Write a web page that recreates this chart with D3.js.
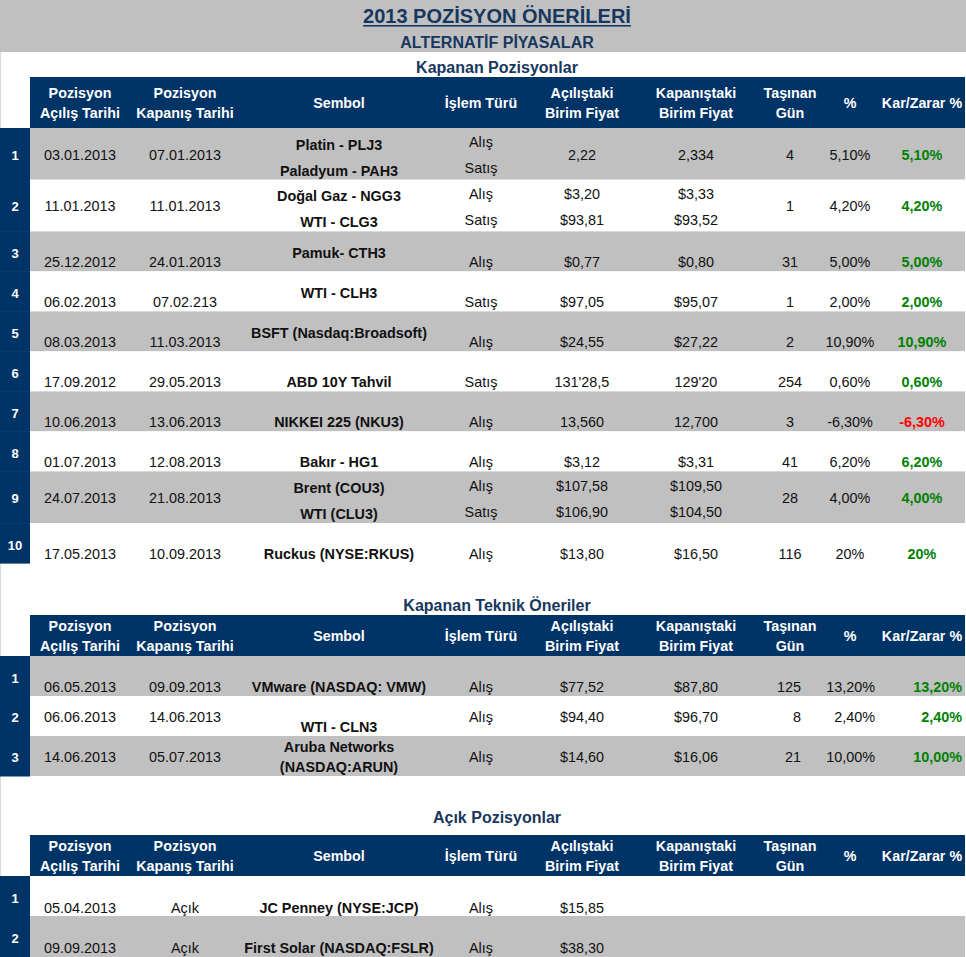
<!DOCTYPE html>
<html><head><meta charset="utf-8">
<script src="https://cdn.jsdelivr.net/npm/d3@7"></script>
<style>
html,body{margin:0;padding:0;background:#fff;}
svg{display:block;font-family:"Liberation Sans",Arial,sans-serif;}
</style></head>
<body>
<script>
// ---------- DATA ----------
const title = "2013 POZİSYON ÖNERİLERİ";
const subtitle = "ALTERNATİF PİYASALAR";
const sectionTitles = ["Kapanan Pozisyonlar", "Kapanan Teknik Öneriler", "Açık Pozisyonlar"];
const columns = ["open","close","symbol","side","openPrice","closePrice","days","pct","pl"];
const headerLabels = [["Pozisyon","Açılış Tarihi"],["Pozisyon","Kapanış Tarihi"],["Sembol"],["İşlem Türü"],["Açılıştaki","Birim Fiyat"],["Kapanıştaki","Birim Fiyat"],["Taşınan","Gün"],["%"],["Kar/Zarar %"]];

// Section 1: Kapanan Pozisyonlar
const kpOpen = ["03.01.2013","11.01.2013","25.12.2012","06.02.2013","08.03.2013","17.09.2012","10.06.2013","01.07.2013","24.07.2013","17.05.2013"];
const kpClose = ["07.01.2013","11.01.2013","24.01.2013","07.02.213","11.03.2013","29.05.2013","13.06.2013","12.08.2013","21.08.2013","10.09.2013"];
const kpSymbol = [["Platin - PLJ3","Paladyum - PAH3"],["Doğal Gaz - NGG3","WTI - CLG3"],["Pamuk- CTH3"],["WTI - CLH3"],["BSFT (Nasdaq:Broadsoft)"],["ABD 10Y Tahvil"],["NIKKEI 225 (NKU3)"],["Bakır - HG1"],["Brent (COU3)","WTI (CLU3)"],["Ruckus (NYSE:RKUS)"]];
const kpSide = [["Alış","Satış"],["Alış","Satış"],["Alış"],["Satış"],["Alış"],["Satış"],["Alış"],["Alış"],["Alış","Satış"],["Alış"]];
const kpOpenPrice = [["2,22"],["$3,20","$93,81"],["$0,77"],["$97,05"],["$24,55"],["131'28,5"],["13,560"],["$3,12"],["$107,58","$106,90"],["$13,80"]];
const kpClosePrice = [["2,334"],["$3,33","$93,52"],["$0,80"],["$95,07"],["$27,22"],["129'20"],["12,700"],["$3,31"],["$109,50","$104,50"],["$16,50"]];
const kpDays = ["4","1","31","1","2","254","3","41","28","116"];
const kpPct = ["5,10%","4,20%","5,00%","2,00%","10,90%","0,60%","-6,30%","6,20%","4,00%","20%"];
const kpPL = ["5,10%","4,20%","5,00%","2,00%","10,90%","0,60%","-6,30%","6,20%","4,00%","20%"];

// Section 2: Kapanan Teknik Öneriler
const tkOpen = ["06.05.2013","06.06.2013","14.06.2013"];
const tkClose = ["09.09.2013","14.06.2013","05.07.2013"];
const tkSymbol = [["VMware (NASDAQ: VMW)"],["WTI - CLN3"],["Aruba Networks","(NASDAQ:ARUN)"]];
const tkSide = [["Alış"],["Alış"],["Alış"]];
const tkOpenPrice = [["$77,52"],["$94,40"],["$14,60"]];
const tkClosePrice = [["$87,80"],["$96,70"],["$16,06"]];
const tkDays = ["125","8","21"];
const tkPct = ["13,20%","2,40%","10,00%"];
const tkPL = ["13,20%","2,40%","10,00%"];

// Section 3: Açık Pozisyonlar
const apOpen = ["05.04.2013","09.09.2013"];
const apClose = ["Açık","Açık"];
const apSymbol = [["JC Penney (NYSE:JCP)"],["First Solar (NASDAQ:FSLR)"]];
const apSide = [["Alış"],["Alış"]];
const apOpenPrice = [["$15,85"],["$38,30"]];

// ---------- LAYOUT (styles, not data) ----------
const W = 966, H = 957;
const NAVY = "#003366", GRAY = "#c0c0c0", TITLE = "#17375e";
const xCenter = d3.scaleOrdinal().domain(columns).range([80,185,339,481,582,696,790,850,922]);
const xRight = d3.scaleOrdinal().domain(["days","pct","pl"]).range([801,875,962]);

const svg = d3.select("body").append("svg").attr("width", W).attr("height", H);

// title band
svg.append("rect").attr("x",0).attr("y",0).attr("width",W).attr("height",52).attr("fill",GRAY);
const t = svg.append("text").attr("x",497).attr("y",23).attr("text-anchor","middle")
  .attr("font-size",20).attr("font-weight","bold").attr("fill",TITLE).text(title);
const tw = t.node().getComputedTextLength();
svg.append("rect").attr("x",497-tw/2).attr("y",25).attr("width",tw).attr("height",1.6).attr("fill",TITLE);
svg.append("text").attr("x",497).attr("y",48).attr("text-anchor","middle")
  .attr("font-size",16).attr("font-weight","bold").attr("fill",TITLE).text(subtitle);
// left hairline border
svg.append("rect").attr("x",0).attr("y",52).attr("width",1).attr("height",H-52).attr("fill","#d8d8d8");

function header(sTitle, titleY, top, h){
  svg.append("text").attr("x",497).attr("y",titleY+6).attr("text-anchor","middle")
    .attr("font-size",16).attr("font-weight","bold").attr("fill",TITLE).text(sTitle);
  svg.append("rect").attr("x",30).attr("y",top).attr("width",W-31).attr("height",h).attr("fill",NAVY);
  const g = svg.append("g");
  const mid = top + h/2;
  columns.forEach((c,i)=>{
    const lines = headerLabels[i];
    lines.forEach((l,j)=>{
      const cy = lines.length===2 ? mid - 10 + j*20 : mid;
      g.append("text").attr("x",xCenter(c)).attr("y",cy+5).attr("text-anchor","middle")
        .attr("font-size",14.3).attr("font-weight","bold").attr("fill","#fff").text(l);
    });
  });
}

function txt(x, cy, s, opts={}){
  svg.append("text").attr("x",x).attr("y",cy+5.2)
    .attr("text-anchor",opts.anchor||"middle")
    .attr("font-size",opts.size||14.4)
    .attr("font-weight",opts.bold?"bold":"normal")
    .attr("fill",opts.fill||"#111").text(s);
}

function plColor(s){ return s.trim().startsWith("-") ? "#ff0000" : "#008000"; }

function drawRows(rows, top){
  const tops = [];
  let y = top;
  rows.forEach(r=>{ tops.push(y); y += r.h; });
  const yRow = d3.scaleOrdinal().domain(d3.range(rows.length)).range(tops);
  rows.forEach((r,i)=>{
    const ry = yRow(i);
    svg.append("rect").attr("x",30).attr("y",ry).attr("width",W-31).attr("height",r.h).attr("fill",r.gray?GRAY:"#fff");
    svg.append("rect").attr("x",0).attr("y",ry).attr("width",30).attr("height",r.h+0.5).attr("fill",NAVY);
    svg.append("text").attr("x",15).attr("y",ry+r.idxY+4.7).attr("text-anchor","middle")
      .attr("font-size",13).attr("font-weight","bold").attr("fill","#fff").text(i+1);
    columns.forEach(c=>{
      const lines = r.cells[c];
      if(!lines) return;
      const isSym = c==="symbol";
      const opts = {bold: isSym || c==="pl"};
      if(c==="pl") opts.fill = plColor(lines[0]);
      let x = xCenter(c);
      if(r.rightAlign && xRight.domain().includes(c)){ x = xRight(c); opts.anchor="end"; }
      if(lines.length===2){
        const py = isSym ? r.symPairY : r.pairY;
        lines.forEach((l,j)=> txt(x, ry+py[j], l, opts));
      } else {
        const cy = isSym ? r.symY : r.mainY;
        txt(x, ry+cy, lines[0], opts);
      }
    });
  });
}

// ---- Section 1 ----
const kpSymPos = ["pair","pair","upper","upper","upper","lower","lower","lower","pair","lower"];
header(sectionTitles[0], 67, 77, 51);
const kpRows = kpOpen.map((d,i)=>{
  const two = kpSymbol[i].length===2;
  const h = two ? 51.7 : 40;
  return {
    h, gray: i%2===0,
    idxY: two ? 27 : 22,
    mainY: two ? 26.5 : 30.5,
    symY: kpSymPos[i]==="upper" ? 21 : 30.5,
    pairY: [14,40], symPairY: [16.5,42.5],
    cells: {open:[d], close:[kpClose[i]], symbol:kpSymbol[i], side:kpSide[i],
      openPrice:kpOpenPrice[i], closePrice:kpClosePrice[i], days:[kpDays[i]], pct:[kpPct[i]], pl:[kpPL[i]]}
  };
});
drawRows(kpRows, 128);

// ---- Section 2 ----
const tkMainPos = ["lower","upper","upper"];
const tkSymPos = ["lower","lower","pair"];
header(sectionTitles[1], 605, 615, 41);
const tkRows = tkOpen.map((d,i)=>({
  h: 40, gray: i%2===0, rightAlign: true,
  idxY: tkMainPos[i]==="lower" ? 22 : 21,
  mainY: tkMainPos[i]==="lower" ? 31 : 21,
  symY: tkSymPos[i]==="lower" ? 31 : 21,
  pairY: [11,31], symPairY: [11,31],
  cells: {open:[d], close:[tkClose[i]], symbol:tkSymbol[i], side:tkSide[i],
    openPrice:tkOpenPrice[i], closePrice:tkClosePrice[i], days:[tkDays[i]], pct:[tkPct[i]], pl:[tkPL[i]]}
}));
drawRows(tkRows, 656);

// ---- Section 3 ----
header(sectionTitles[2], 817, 835, 41);
const apRows = apOpen.map((d,i)=>({
  h: i===0 ? 40 : 41, gray: i%2===1,
  idxY: 22, mainY: 31.5, symY: 31.5, pairY:[11,31], symPairY:[11,31],
  cells: {open:[d], close:[apClose[i]], symbol:apSymbol[i], side:apSide[i], openPrice:apOpenPrice[i]}
}));
drawRows(apRows, 876);
</script>
</body></html>
